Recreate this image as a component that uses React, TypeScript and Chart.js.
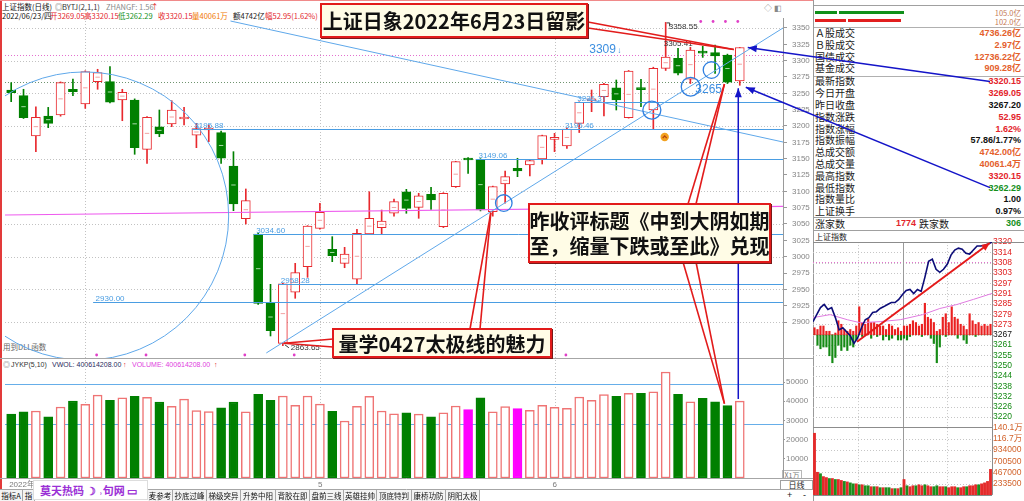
import React, { useEffect, useRef } from 'react';
import { Chart, registerables } from 'chart.js';

Chart.register(...registerables);

const LATIN = '"Liberation Sans", Arial, "Noto Sans CJK SC", sans-serif';
const CJK = '"Noto Sans CJK SC", "Liberation Sans", sans-serif';

const UP = '#e8282d';
const UP_VOL = '#ef7474';
const DOWN = '#008000';
const MARK = '#ff00ff';
const LEVEL = '#4a9de2';
const NAVY = '#1414c8';
const CALLOUT = '#e21b1b';
const ORANGE = '#e4602c';
const RED_TXT = '#e3242b';
const GREEN_TXT = '#14901c';

// ---- 上证指数 daily bars ----
const dates = [
  '2022-03-24', '2022-03-25', '2022-03-28', '2022-03-29', '2022-03-30', '2022-03-31',
  '2022-04-01', '2022-04-06', '2022-04-07', '2022-04-08', '2022-04-11', '2022-04-12', '2022-04-13', '2022-04-14', '2022-04-15',
  '2022-04-18', '2022-04-19', '2022-04-20', '2022-04-21', '2022-04-22', '2022-04-25', '2022-04-26', '2022-04-27', '2022-04-28', '2022-04-29',
  '2022-05-05', '2022-05-06', '2022-05-09', '2022-05-10', '2022-05-11', '2022-05-12', '2022-05-13', '2022-05-16', '2022-05-17', '2022-05-18',
  '2022-05-19', '2022-05-20', '2022-05-23', '2022-05-24', '2022-05-25', '2022-05-26', '2022-05-27', '2022-05-30', '2022-05-31',
  '2022-06-01', '2022-06-02', '2022-06-06', '2022-06-07', '2022-06-08', '2022-06-09', '2022-06-10', '2022-06-13', '2022-06-14', '2022-06-15',
  '2022-06-16', '2022-06-17', '2022-06-20', '2022-06-21', '2022-06-22', '2022-06-23',
];
const opens = [
  3255.1, 3246.4, 3184.7, 3215.3, 3216.8, 3256.2, 3233.7, 3267.8, 3267.8, 3239.8,
  3239.8, 3164.2, 3198.9, 3203.0, 3210.7, 3185.8, 3193.9, 3189.8, 3138.8, 3058.1,
  3034.6, 2928.6, 2867.4, 2945.5, 2984.6, 3043.4, 3011.3, 2989.8, 2965.4, 3034.7,
  3044.3, 3066.4, 3099.4, 3075.5, 3095.5, 3045.9, 3107.1, 3150.6, 3149.06, 3068.9,
  3111.2, 3135.3, 3140.3, 3149.5, 3179.6, 3169.4, 3204.1, 3238.4, 3245.0, 3258.6,
  3212.7, 3257.2, 3224.5, 3288.3, 3303.6, 3271.5, 3313.0, 3312.3, 3308.7, 3269.05,
];
const highs = [
  3266.3, 3256.2, 3229.5, 3228.5, 3267.5, 3272.0, 3284.5, 3286.8, 3290.8, 3256.2,
  3241.5, 3214.5, 3224.5, 3238.7, 3228.5, 3204.0, 3201.5, 3192.3, 3160.7, 3103.6,
  3036.0, 2957.7, 2959.0, 2989.8, 3047.5, 3081.7, 3030.6, 3014.3, 3041.9, 3099.4,
  3071.4, 3088.0, 3103.1, 3097.0, 3106.2, 3098.0, 3146.0, 3151.5, 3150.0, 3108.0,
  3131.1, 3150.6, 3148.0, 3186.0, 3188.8, 3197.0, 3237.0, 3255.1, 3265.3, 3270.4,
  3285.0, 3271.5, 3290.0, 3358.55, 3319.0, 3320.5, 3322.0, 3324.0, 3310.0, 3320.15,
];
const lows = [
  3237.2, 3211.5, 3160.7, 3197.4, 3215.0, 3246.4, 3227.0, 3256.2, 3235.5, 3208.1,
  3156.7, 3142.9, 3183.6, 3199.0, 3201.5, 3166.8, 3176.0, 3142.9, 3070.4, 3050.0,
  2927.0, 2878.6, 2863.65, 2936.3, 2968.4, 3042.0, 2992.3, 2983.1, 2958.2, 3034.0,
  3034.7, 3062.0, 3066.4, 3058.7, 3072.5, 3044.5, 3106.0, 3127.6, 3070.0, 3062.0,
  3081.7, 3122.4, 3123.5, 3141.8, 3160.7, 3165.8, 3190.0, 3221.9, 3215.3, 3224.5,
  3212.0, 3229.5, 3194.9, 3285.0, 3278.0, 3265.0, 3305.0, 3280.6, 3265.0, 3262.29,
];
const closes = [
  3251.0, 3212.7, 3213.3, 3204.1, 3266.3, 3252.6, 3283.1, 3281.6, 3236.3, 3251.6,
  3166.8, 3213.3, 3187.7, 3224.5, 3212.3, 3195.88, 3196.4, 3150.6, 3080.6, 3085.7,
  2928.6, 2886.7, 2958.28, 2975.5, 3046.9, 3067.9, 3001.6, 3004.1, 3035.8, 3058.7,
  3054.6, 3084.2, 3073.8, 3093.3, 3086.7, 3097.0, 3145.4, 3148.0, 3071.5, 3107.1,
  3122.4, 3131.1, 3146.9, 3185.2, 3182.1, 3195.46, 3236.3, 3240.6, 3263.8, 3239.8,
  3284.2, 3255.6, 3288.3, 3305.41, 3281.0, 3316.3, 3311.6, 3307.1, 3267.2, 3320.15,
];
// 成交量, 万
const volumes = [
  33300, 34400, 34900, 31800, 37000, 40100, 38400, 43200, 40500, 41700,
  42500, 42000, 39600, 37300, 41100, 35100, 34600, 36600, 39600, 34400,
  43600, 40500, 42700, 37900, 42700, 38500, 34700, 29700, 37300, 42500,
  34900, 33400, 34000, 33300, 31800, 34000, 37500, 35600, 41800, 34400,
  37200, 36100, 35200, 37800, 36800, 36300, 42200, 40500, 43400, 42500,
  44100, 44100, 44900, 55200, 43600, 39700, 41500, 39700, 37700, 40061,
];
const markedVolume = [37, 41];
const EMPTY_SLOTS = 3;

const priceTicks = [2900, 2925, 2950, 2975, 3000, 3025, 3050, 3075, 3100, 3125, 3150, 3175, 3200, 3225, 3250, 3275, 3300, 3325, 3350];
const priceGridLines = [2900, 2950, 3000, 3050, 3100, 3150, 3200, 3250, 3300, 3350];
const volumeTicks = [10000, 20000, 30000, 40000, 50000];
const volumeLevels = [48900, 28100];
const axisMarks = [
  { index: 0, text: '2022年' },
  { index: 6, text: '4' },
  { index: 25, text: '5' },
  { index: 44, text: '6' },
];

const PREV_CLOSE = 3267.2;
const WATCH_LEVEL = 3309;

const levelLines = [
  { from: 7, value: 2930.0 },
  { from: 15, value: 3195.88 },
  { from: 20, value: 3034.6 },
  { from: 22, value: 2958.28 },
  { from: 38, value: 3149.06 },
  { from: 45, value: 3195.46 },
  { from: 46, value: 3236.37 },
];
const trendLines = [
  { a: [17.76, 3360.7], b: [62.5, 3175.5] },
  { a: [20.66, 2852.6], b: [62.5, 3350.0] },
];
const pinkGuide = { a: [-0.5, 3063.8], b: [62.5, 3077.0] };
const bigRing = { index: 5.94, value: 3062.2, span: 11.67 };
const smallRings = [
  { index: 39.89, value: 3082.1, span: 0.67 },
  { index: 51.88, value: 3224.4, span: 0.73 },
  { index: 55.02, value: 3260.2, span: 0.76 },
  { index: 56.71, value: 3285.7, span: 0.67 },
];
const signalTop = [56, 57, 58, 59];
const signalBottom = [7, 11, 19, 23, 45];

// ---- 分时 (intraday, minutes after 9:30) ----
const intradayMinutes = [
  0, 5, 10, 15, 20, 25, 30, 35, 40, 45, 50, 55, 60, 65, 70, 75, 80, 85, 90, 95, 100, 105, 110, 115, 120,
  125, 130, 135, 140, 145, 150, 155, 160, 165, 170, 175, 180, 185, 190, 195, 200, 205, 210, 215, 220, 225, 230, 235, 240,
];
const intradayPrice = [
  3274.7, 3278.7, 3282.7, 3284.5, 3281.6, 3282.7, 3277.0, 3270.0, 3271.2, 3268.9,
  3266.6, 3262.3, 3265.5, 3271.2, 3275.8, 3277.0, 3279.9, 3280.4, 3282.2, 3283.3,
  3284.5, 3285.6, 3285.6, 3287.4, 3290.2, 3292.5, 3293.1, 3290.8, 3293.1, 3292.0,
  3300.0, 3309.2, 3310.4, 3304.6, 3302.9, 3304.6, 3307.5, 3312.7, 3315.6, 3316.7,
  3316.1, 3313.8, 3313.3, 3315.6, 3317.9, 3317.9, 3318.4, 3319.0, 3320.15,
];
const avgMinutes = [0, 23, 46, 63, 90, 117, 147, 170, 193, 215, 240];
const avgPrice = [3277.0, 3278.7, 3275.8, 3274.1, 3274.7, 3275.8, 3278.7, 3282.2, 3284.5, 3287.4, 3290.8];
const breadthMinutes = [
  2, 6, 10, 14, 18, 22, 26, 30, 34, 38, 42, 46, 50, 54, 58, 62, 66, 70, 74, 78,
  82, 86, 90, 94, 98, 102, 106, 110, 114, 118, 122, 126, 130, 134, 138, 142, 146, 150, 154, 158,
  162, 166, 170, 174, 178, 182, 186, 190, 194, 198, 202, 206, 210, 214, 218, 222, 226, 230, 234, 238,
];
const breadthUp = [
  4, 3, 5, 5, 2, 2, 0, 1, 8, 6, 3, 2, 3, 2, 5, 16, 7, 6, 9, 7,
  7, 6, 5, 5, 3, 6, 5, 3, 4, 2, 5, 5, 6, 8, 7, 5, 6, 18, 10, 9,
  7, 2, 3, 10, 12, 7, 16, 10, 9, 6, 5, 3, 12, 8, 6, 7, 5, 6, 5, 6,
];
const breadthDown = [
  0, 6, 8, 7, 7, 12, 16, 13, 6, 9, 7, 9, 6, 7, 3, 0, 1, 0, 0, 2,
  0, 1, 0, 3, 1, 3, 2, 0, 3, 3, 2, 3, 1, 0, 0, 0, 1, 0, 0, 2,
  5, 16, 7, 0, 1, 0, 0, 0, 2, 0, 3, 5, 0, 0, 1, 0, 0, 0, 0, 0,
];
// 分时成交量, 万
const minuteVolume = [
  128, 47, 44, 38, 36, 34, 34, 32, 32, 30, 28, 27, 25, 23, 23, 21, 21, 19, 19, 17,
  17, 17, 15, 15, 15, 15, 13, 13, 13, 15, 32, 19, 17, 19, 19, 21, 19, 21, 19, 17,
  17, 19, 17, 17, 17, 15, 17, 17, 15, 15, 17, 17, 19, 19, 21, 21, 23, 25, 28, 53,
];
const minuteVolumeSide = 'rrgrrgrgrrgrggrgrggrgrgrggrgrgrgrrgrrgrrggrrgrrrgrrgrrrgrrrr';
const minutePriceTicks = [
  3220.13, 3226.02, 3231.9, 3237.78, 3243.67, 3249.55, 3255.43, 3261.32, 3267.2,
  3273.08, 3278.97, 3284.85, 3290.73, 3296.62, 3302.5, 3308.38, 3314.27, 3320.15,
];
const MINUTE_PRICE_TOP = 3320.15;
const MINUTE_PRICE_FLOOR = 3214.25;
const minuteVolumeTicks = [23.35, 46.7, 70.05, 93.4, 116.75, 140.1];
const MINUTE_VOLUME_TOP = 140.1;
const minuteVolumeTickText = ['233500', '467000', '700500', '934000', '116.7万', '140.1万'];
const minuteSessions = [60, 120, 180];
const minuteTrend = { a: [59, 3263.2], b: [237, 3319.6] };
// share of the intraday plot height taken by the price band (the rest holds volume)
const PRICE_BAND_SHARE = 184 / 251;

// ---- side panel ----
const panelRows = [
  { label: 'Ａ股成交', value: '4736.26亿', color: ORANGE },
  { label: 'Ｂ股成交', value: '2.97亿', color: ORANGE },
  { label: '国债成交', value: '12736.22亿', color: ORANGE },
  { label: '基金成交', value: '909.28亿', color: ORANGE },
  { label: '最新指数', value: '3320.15', color: RED_TXT },
  { label: '今日开盘', value: '3269.05', color: RED_TXT },
  { label: '昨日收盘', value: '3267.20', color: '#111' },
  { label: '指数涨跌', value: '52.95', color: RED_TXT },
  { label: '指数涨幅', value: '1.62%', color: RED_TXT },
  { label: '指数振幅', value: '57.86/1.77%', color: '#111' },
  { label: '总成交额', value: '4742.00亿', color: ORANGE },
  { label: '总成交量', value: '40061.4万', color: ORANGE },
  { label: '最高指数', value: '3320.15', color: RED_TXT },
  { label: '最低指数', value: '3262.29', color: GREEN_TXT },
  { label: '指数量比', value: '1.00', color: '#111' },
  { label: '上证换手', value: '0.97%', color: '#111' },
];
const ROW_LATEST = 4;
const ROW_LOWEST = 13;
const panelRowY = (k: number) => 33 + 11.8 * k + (k >= 4 ? 1.2 : 0);

const tabs = [
  { text: '指标A', x: 0, w: 23 }, { text: '指', x: 23, w: 12 }, { text: '麦参考', x: 148, w: 25 },
  { text: '抄底过峰', x: 173, w: 34 }, { text: '梯级突异', x: 207, w: 34 }, { text: '升势中阳', x: 241, w: 35 },
  { text: '背胶在即', x: 276, w: 34 }, { text: '盘前三线', x: 310, w: 34 }, { text: '英雄挂帅', x: 344, w: 33 },
  { text: '顶底特判', x: 377, w: 35 }, { text: '康桥功防', x: 412, w: 34 }, { text: '阴阳太极', x: 446, w: 34 },
];

const headerRow1 = [
  { x: 2, text: '上证指数(日线)', color: '#111' },
  { x: 55, text: '◎', color: '#666' },
  { x: 62, text: 'BYTJ(2,1,1)', color: '#333' },
  { x: 106, text: 'ZHANGF: 1.56', color: '#8a8a8a' },
  { x: 151, text: '↑', color: '#e02020' },
];
const headerRow2 = [
  { x: 2, text: '2022/06/23/四', color: '#111' },
  { x: 50, text: '开3269.05', color: RED_TXT },
  { x: 84, text: '高3320.15', color: RED_TXT },
  { x: 118, text: '低3262.29', color: GREEN_TXT },
  { x: 158, text: '收3320.15', color: RED_TXT },
  { x: 192, text: '量40061万', color: '#f07800' },
  { x: 233, text: '额4742亿', color: '#222' },
  { x: 265, text: '幅52.95(1.62%)', color: RED_TXT },
];
const volumeHeader = [
  { x: 3, text: '◎', color: '#666' },
  { x: 11, text: 'JYKP(5,10)', color: '#333' },
  { x: 52, text: 'VWOL: 400614208.00', color: '#2a2a60' },
  { x: 123, text: '↑', color: '#e02020' },
  { x: 132, text: 'VOLUME: 400614208.00', color: '#e040e0' },
  { x: 214, text: '↑', color: '#e02020' },
];

// callout boxes (page pixels)
const titleBox = { x: 320, y: 3, w: 268, h: 35 };
const reviewBox = { x: 528, y: 203, w: 243, h: 60 };
const taijiBox = { x: 332, y: 328, w: 220, h: 30 };

function seg(ctx: CanvasRenderingContext2D, x1: number, y1: number, x2: number, y2: number) {
  ctx.beginPath();
  ctx.moveTo(x1, y1);
  ctx.lineTo(x2, y2);
  ctx.stroke();
}

function arrowHead(ctx: CanvasRenderingContext2D, x1: number, y1: number, x2: number, y2: number, len: number, half: number) {
  const a = Math.atan2(y2 - y1, x2 - x1);
  const bx = x2 - len * Math.cos(a);
  const by = y2 - len * Math.sin(a);
  ctx.beginPath();
  ctx.moveTo(x2, y2);
  ctx.lineTo(bx + half * Math.sin(a), by - half * Math.cos(a));
  ctx.lineTo(bx - half * Math.sin(a), by + half * Math.cos(a));
  ctx.closePath();
  ctx.fill();
}

const dailyDecor = {
  id: 'dailyDecor',
  beforeDatasetsDraw(chart: any) {
    const { ctx, chartArea } = chart;
    const xs = chart.scales.x;
    const yP = chart.scales.yP;
    const yV = chart.scales.yV;
    const L = chartArea.left;
    const R = chartArea.right;
    ctx.save();
    ctx.lineWidth = 1;
    ctx.setLineDash([1, 2]);
    ctx.strokeStyle = '#c2c2c2';
    priceGridLines.forEach((v) => {
      const y = Math.round(yP.getPixelForValue(v)) + 0.5;
      seg(ctx, L, y, R, y);
    });
    axisMarks.forEach((m) => {
      if (m.index === 0) return;
      const x = Math.round(xs.getPixelForValue(m.index)) + 0.5;
      seg(ctx, x, yP.top, x, yV.bottom);
    });
    ctx.strokeStyle = '#6f946f';
    let y = Math.round(yP.getPixelForValue(PREV_CLOSE)) + 0.5;
    seg(ctx, L, y, R, y);
    ctx.strokeStyle = '#e46fcf';
    y = Math.round(yP.getPixelForValue(WATCH_LEVEL)) + 0.5;
    seg(ctx, L, y, R, y);
    ctx.setLineDash([]);
    ctx.strokeStyle = '#66aee9';
    volumeLevels.forEach((v) => {
      const yy = Math.round(yV.getPixelForValue(v)) + 0.5;
      seg(ctx, L, yy, R, yy);
    });
    ctx.restore();
  },
  afterDatasetsDraw(chart: any) {
    const { ctx, chartArea } = chart;
    const xs = chart.scales.x;
    const yP = chart.scales.yP;
    const L = chartArea.left;
    const R = chartArea.right;
    const px = (i: number) => xs.getPixelForValue(i);
    const py = (v: number) => yP.getPixelForValue(v);
    const slot = px(1) - px(0);
    ctx.save();
    ctx.beginPath();
    ctx.rect(L, yP.top, R - L, yP.bottom - yP.top);
    ctx.clip();

    ctx.strokeStyle = '#ee5cee';
    ctx.lineWidth = 1.2;
    seg(ctx, px(pinkGuide.a[0]), py(pinkGuide.a[1]), px(pinkGuide.b[0]), py(pinkGuide.b[1]));

    ctx.lineWidth = 1;
    ctx.strokeStyle = LEVEL;
    ctx.fillStyle = LEVEL;
    ctx.font = `8px ${LATIN}`;
    ctx.textAlign = 'left';
    ctx.textBaseline = 'alphabetic';
    levelLines.forEach((l) => {
      const yy = Math.round(py(l.value)) + 0.5;
      seg(ctx, px(l.from) - 4.5, yy, R, yy);
      ctx.fillText(l.value.toFixed(2), px(l.from) - 2, yy - 2);
    });

    ctx.strokeStyle = '#5fa8ea';
    trendLines.forEach((t) => seg(ctx, px(t.a[0]), py(t.a[1]), px(t.b[0]), py(t.b[1])));
    ctx.beginPath();
    ctx.arc(px(bigRing.index), py(bigRing.value), bigRing.span * slot, 0, Math.PI * 2);
    ctx.stroke();
    ctx.strokeStyle = '#2f7fe0';
    ctx.lineWidth = 1.3;
    smallRings.forEach((r) => {
      ctx.beginPath();
      ctx.arc(px(r.index), py(r.value), r.span * slot, 0, Math.PI * 2);
      ctx.stroke();
    });

    // level tags
    ctx.fillStyle = '#3d8fe0';
    ctx.font = `12px ${LATIN}`;
    ctx.fillText(String(WATCH_LEVEL), px(46.81), py(WATCH_LEVEL) - 2);
    ctx.font = `8px ${LATIN}`;
    ctx.fillText('↓', px(46.81) + 28, py(WATCH_LEVEL) - 2);
    ctx.font = `12px ${LATIN}`;
    ctx.fillText('3265', px(55.4), py(3265) + 9);

    // price notes
    ctx.fillStyle = '#333';
    ctx.font = `8px ${LATIN}`;
    ctx.fillText(highs[53].toFixed(2), px(53) + 3, py(highs[53]) + 7);
    ctx.fillText(closes[53].toFixed(2), px(53) - 2, py(closes[53]) - 11);
    ctx.fillText(lows[22].toFixed(2), px(22) + 8, py(lows[22]) + 4);
    ctx.strokeStyle = '#333';
    ctx.lineWidth = 1;
    seg(ctx, px(53) + 1, py(highs[53]) + 0.5, px(53) + 4, py(highs[53]) + 0.5);
    seg(ctx, px(53) + 4, py(highs[53]) + 0.5, px(53) + 4, py(highs[53]) + 4);
    seg(ctx, px(22) + 2, py(lows[22]) - 1, px(22) + 6, py(lows[22]) + 2);

    // signal dots
    ctx.fillStyle = '#e040c8';
    signalBottom.forEach((i) => {
      ctx.beginPath();
      ctx.arc(px(i) - 1, yP.bottom - 3, 1.4, 0, Math.PI * 2);
      ctx.fill();
    });
    signalTop.forEach((i) => {
      ctx.beginPath();
      ctx.arc(px(i) - 2, yP.top + 3.5, 1.4, 0, Math.PI * 2);
      ctx.fill();
    });

    // badge under the 3358 candle
    const bx = px(53) - 1;
    const by = py(3183.1);
    ctx.fillStyle = '#f2a11f';
    ctx.beginPath();
    ctx.arc(bx, by, 4.2, 0, Math.PI * 2);
    ctx.fill();
    ctx.strokeStyle = '#b5400a';
    ctx.lineWidth = 1.2;
    ctx.beginPath();
    ctx.moveTo(bx - 2, by + 1.2);
    ctx.lineTo(bx, by - 1.2);
    ctx.lineTo(bx + 2, by + 1.2);
    ctx.stroke();
    ctx.restore();
  },
  afterDraw(chart: any) {
    const { ctx } = chart;
    const xs = chart.scales.x;
    const yP = chart.scales.yP;
    const yV = chart.scales.yV;
    const px = (i: number) => xs.getPixelForValue(i);
    const py = (v: number) => yP.getPixelForValue(v);
    const last = dates.length - 1;
    ctx.save();

    // pane separators
    ctx.strokeStyle = '#a6a6a6';
    ctx.lineWidth = 1;
    seg(ctx, 0, Math.round(yV.top) + 0.5, 813, Math.round(yV.top) + 0.5);
    seg(ctx, 0, Math.round(yV.bottom) + 0.5, 813, Math.round(yV.bottom) + 0.5);
    seg(ctx, 0, 489.5, 813, 489.5);

    // month labels
    ctx.fillStyle = '#7a7a7a';
    ctx.font = `8px ${LATIN}`;
    ctx.textBaseline = 'middle';
    ctx.textAlign = 'left';
    axisMarks.forEach((m) => ctx.fillText(m.text, px(m.index) - 2, 485));

    // callout pointers
    ctx.strokeStyle = CALLOUT;
    ctx.lineWidth = 1.6;
    const wedge = (ax: number, ay: number, s: number[][]) => s.forEach((p) => seg(ctx, p[0], p[1], ax, ay));
    const tRight = titleBox.x + titleBox.w;
    wedge(px(last) - 6, py(highs[last]) + 2, [[tRight, titleBox.y + 19], [tRight, titleBox.y + 25]]);
    wedge(px(58) - 3, py(closes[58]) + 2, [[reviewBox.x + 160, reviewBox.y + 1], [reviewBox.x + 168, reviewBox.y + 1]]);
    const rBottom = reviewBox.y + reviewBox.h;
    wedge(px(58) - 3, yV.getPixelForValue(volumes[58]) - 2, [[reviewBox.x + 155, rBottom - 1], [reviewBox.x + 168, rBottom - 1]]);
    wedge(px(39) - 2, py(opens[39]) + 1, [[taijiBox.x + 138, taijiBox.y + 1], [taijiBox.x + 148, taijiBox.y + 1]]);
    wedge(px(22) + 1, py(opens[22]), [[taijiBox.x + 1, taijiBox.y + 11], [taijiBox.x + 1, taijiBox.y + 19]]);

    // links from the quote panel
    ctx.strokeStyle = NAVY;
    ctx.fillStyle = NAVY;
    ctx.lineWidth = 1.5;
    const links = [
      { sx: 990, sy: panelRowY(ROW_LATEST), tx: px(last) + 8, ty: py(highs[last]) },
      { sx: 990, sy: panelRowY(ROW_LOWEST), tx: px(last) + 6, ty: py(lows[last]) + 2 },
      { sx: px(last) - 1.5, sy: yV.getPixelForValue(volumes[last]) - 2, tx: px(last) - 1.5, ty: py(lows[last]) + 3 },
    ];
    links.forEach((l) => {
      seg(ctx, l.sx, l.sy, l.tx, l.ty);
      arrowHead(ctx, l.sx, l.sy, l.tx, l.ty, 9, 3.5);
    });
    ctx.restore();
  },
};

const intradayDecor = {
  id: 'intradayDecor',
  beforeDatasetsDraw(chart: any) {
    const { ctx, chartArea } = chart;
    const xs = chart.scales.x;
    const yI = chart.scales.yI;
    const yIV = chart.scales.yIV;
    const L = chartArea.left;
    const R = chartArea.right;
    const T = chartArea.top;
    const B = chartArea.bottom;
    const split = Math.round(yI.getPixelForValue(MINUTE_PRICE_FLOOR)) + 0.5;
    ctx.save();
    ctx.lineWidth = 1;
    ctx.setLineDash([1, 2]);
    ctx.strokeStyle = '#c6c6c6';
    minutePriceTicks.forEach((v) => {
      const y = Math.round(yI.getPixelForValue(v)) + 0.5;
      seg(ctx, L, y, R, y);
    });
    minuteVolumeTicks.forEach((v) => {
      const y = Math.round(yIV.getPixelForValue(v)) + 0.5;
      seg(ctx, L, y, R, y);
    });
    minuteSessions.forEach((t) => {
      if (t === 120) return;
      const x = Math.round(xs.getPixelForValue(t)) + 0.5;
      seg(ctx, x, T, x, B);
    });
    ctx.strokeStyle = '#e46fcf';
    const yw = Math.round(yI.getPixelForValue(WATCH_LEVEL)) + 0.5;
    seg(ctx, L, yw, R, yw);
    ctx.setLineDash([]);
    ctx.strokeStyle = '#9a9a9a';
    const xm = Math.round(xs.getPixelForValue(120)) + 0.5;
    seg(ctx, xm, T, xm, B);
    ctx.strokeStyle = '#8c8c8c';
    seg(ctx, L, Math.round(T) + 0.5, R + 32, Math.round(T) + 0.5);
    seg(ctx, L, split, R, split);
    seg(ctx, L, Math.round(B) + 0.5, R, Math.round(B) + 0.5);
    seg(ctx, Math.round(R) + 0.5, T, Math.round(R) + 0.5, B);
    ctx.restore();
  },
  afterDatasetsDraw(chart: any) {
    const { ctx } = chart;
    const xs = chart.scales.x;
    const yI = chart.scales.yI;
    const x1 = xs.getPixelForValue(minuteTrend.a[0]);
    const y1 = yI.getPixelForValue(minuteTrend.a[1]);
    const x2 = xs.getPixelForValue(minuteTrend.b[0]);
    const y2 = yI.getPixelForValue(minuteTrend.b[1]);
    ctx.save();
    ctx.strokeStyle = '#e41a1a';
    ctx.fillStyle = '#e41a1a';
    ctx.lineWidth = 2;
    seg(ctx, x1, y1, x2, y2);
    arrowHead(ctx, x1, y1, x2, y2, 8, 3.5);
    ctx.restore();
  },
};

function buildDaily(canvas: HTMLCanvasElement) {
  const pad = (arr: any[]) => [...arr, ...new Array(EMPTY_SLOTS).fill(null)];
  const labels = [...dates, ...new Array(EMPTY_SLOTS).fill('')];
  const up = dates.map((_, i) => closes[i] >= opens[i]);
  const wickData = pad(dates.map((_, i) => [lows[i], highs[i]]));
  const bodyData = pad(dates.map((_, i) => [opens[i], closes[i]]));
  const midData = pad(dates.map((_, i) => (Math.abs(closes[i] - opens[i]) > 9 ? (opens[i] + closes[i]) / 2 : null)));
  const volFill = dates.map((_, i) => (markedVolume.includes(i) ? MARK : up[i] ? '#ffffff' : DOWN));
  const volEdge = dates.map((_, i) => (markedVolume.includes(i) ? MARK : up[i] ? UP_VOL : DOWN));

  return new Chart(canvas, {
    type: 'bar',
    data: {
      labels,
      datasets: [
        {
          type: 'bar', data: wickData as any, yAxisID: 'yP', grouped: false, barThickness: 1, order: 4,
          backgroundColor: up.map((u) => (u ? UP : DOWN)), borderWidth: 0,
        },
        {
          type: 'bar', data: volumes as any, yAxisID: 'yV', grouped: false, barThickness: 9, order: 3,
          backgroundColor: volFill, borderColor: volEdge, borderWidth: 1.5, borderSkipped: false,
        },
        {
          type: 'bar', data: bodyData as any, yAxisID: 'yP', grouped: false, barThickness: 9, order: 2, minBarLength: 2,
          backgroundColor: up.map((u) => (u ? '#ffffff' : DOWN)), borderColor: up.map((u) => (u ? UP : DOWN)),
          borderWidth: 1, borderSkipped: false,
        },
        {
          type: 'line', data: midData as any, yAxisID: 'yP', showLine: false, order: 1,
          pointStyle: 'line', pointRadius: 2.2, pointBorderWidth: 1,
          pointBorderColor: up.map((u) => (u ? '#f3a2a2' : '#a9d9a9')),
        },
      ],
    },
    options: {
      responsive: false,
      animation: false,
      devicePixelRatio: 1,
      events: [],
      layout: { padding: { left: 0, right: 211, top: 18, bottom: 23 } },
      plugins: { legend: { display: false }, tooltip: { enabled: false } },
      scales: {
        x: { type: 'category', display: false, offset: true, grid: { display: false } },
        yP: {
          type: 'linear', position: 'right', stack: 'daily', stackWeight: 340, min: 2844.9, max: 3365.3,
          afterFit: (s: any) => { s.width = 30; },
          afterBuildTicks: (s: any) => { s.ticks = priceTicks.map((v) => ({ value: v })); },
          ticks: { autoSkip: false, padding: 5, color: '#858585', font: { size: 8, family: LATIN }, callback: (v: any) => String(v) },
          grid: { drawOnChartArea: false, tickLength: 4, color: '#9a9a9a' },
          border: { color: '#9a9a9a' },
        },
        yV: {
          type: 'linear', position: 'right', stack: 'daily', stackWeight: 120, min: 0, max: 62500,
          afterFit: (s: any) => { s.width = 30; },
          afterBuildTicks: (s: any) => { s.ticks = volumeTicks.map((v) => ({ value: v })); },
          ticks: { autoSkip: false, padding: 1, color: '#858585', font: { size: 8, family: LATIN }, callback: (v: any) => String(v) },
          grid: { drawOnChartArea: false, tickLength: 2, color: '#9a9a9a' },
          border: { color: '#9a9a9a' },
        },
      },
    } as any,
    plugins: [dailyDecor],
  });
}

function buildIntraday(canvas: HTMLCanvasElement) {
  // price band fills the top share of the plot, volume the rest; both axes span the full plot
  const priceSpan = (MINUTE_PRICE_TOP - MINUTE_PRICE_FLOOR) / PRICE_BAND_SHARE;
  const volumeSpan = MINUTE_VOLUME_TOP / (1 - PRICE_BAND_SHARE);
  return new Chart(canvas, {
    type: 'line',
    data: {
      datasets: [
        {
          type: 'line', data: intradayMinutes.map((t, i) => ({ x: t, y: intradayPrice[i] })), yAxisID: 'yI',
          borderColor: '#0c0c78', borderWidth: 1.6, pointRadius: 0, order: 1,
        },
        {
          type: 'line', data: avgMinutes.map((t, i) => ({ x: t, y: avgPrice[i] })), yAxisID: 'yI',
          borderColor: '#e07be0', borderWidth: 1, pointRadius: 0, order: 2,
        },
        {
          type: 'bar', data: breadthMinutes.map((t, i) => ({ x: t, y: [PREV_CLOSE, PREV_CLOSE + breadthUp[i]] })) as any,
          yAxisID: 'yI', backgroundColor: '#ea2020', barThickness: 1.5, grouped: false, order: 3,
        },
        {
          type: 'bar', data: breadthMinutes.map((t, i) => ({ x: t, y: [PREV_CLOSE - breadthDown[i], PREV_CLOSE] })) as any,
          yAxisID: 'yI', backgroundColor: '#148a14', barThickness: 1.5, grouped: false, order: 4,
        },
        {
          type: 'bar', data: breadthMinutes.map((t, i) => ({ x: t, y: minuteVolume[i] })) as any, yAxisID: 'yIV',
          backgroundColor: minuteVolumeSide.split('').map((c) => (c === 'r' ? '#e42a2a' : '#1d8d1d')),
          barThickness: 2.2, grouped: false, order: 5,
        },
      ],
    },
    options: {
      responsive: false,
      animation: false,
      devicePixelRatio: 1,
      events: [],
      layout: { padding: { left: 0, right: 0, top: 6, bottom: 6 } },
      plugins: { legend: { display: false }, tooltip: { enabled: false } },
      scales: {
        x: { type: 'linear', min: 0, max: 240, display: false, offset: false },
        yI: {
          type: 'linear', position: 'right', min: MINUTE_PRICE_TOP - priceSpan, max: MINUTE_PRICE_TOP,
          afterFit: (s: any) => { s.width = 32; },
          afterBuildTicks: (s: any) => { s.ticks = minutePriceTicks.map((v) => ({ value: v })); },
          ticks: {
            autoSkip: false, padding: 1, font: { size: 8.5, family: LATIN },
            color: (c: any) => (c.tick.value > PREV_CLOSE + 0.01 ? '#e02020' : c.tick.value < PREV_CLOSE - 0.01 ? '#148a14' : '#111'),
            callback: (v: any) => String(Math.round(v)),
          },
          grid: { drawOnChartArea: false, drawTicks: false },
          border: { display: false },
        },
        yIV: {
          type: 'linear', position: 'right', min: 0, max: volumeSpan, display: false,
          afterBuildTicks: (s: any) => { s.ticks = minuteVolumeTicks.map((v) => ({ value: v })); },
        },
      },
    } as any,
    plugins: [
      intradayDecor,
      {
        id: 'minuteVolumeLabels',
        afterDraw(chart: any) {
          const { ctx } = chart;
          const yIV = chart.scales.yIV;
          ctx.save();
          ctx.fillStyle = '#d2622a';
          ctx.font = `8.5px ${LATIN}`;
          ctx.textAlign = 'left';
          ctx.textBaseline = 'middle';
          minuteVolumeTicks.forEach((v, i) => ctx.fillText(minuteVolumeTickText[i], chart.chartArea.right + 1, yIV.getPixelForValue(v)));
          ctx.restore();
        },
      },
    ],
  });
}

const abs = (x: number, y: number, extra: any = {}) => ({ position: 'absolute' as const, left: x, top: y, whiteSpace: 'nowrap' as const, ...extra });

function Callout({ box, lines }: { box: { x: number; y: number; w: number; h: number }; lines: string[] }) {
  return (
    <div
      style={{
        position: 'absolute', left: box.x, top: box.y, width: box.w, height: box.h, boxSizing: 'border-box',
        border: `2px solid ${CALLOUT}`, background: '#fffce6', display: 'flex', flexDirection: 'column',
        justifyContent: 'center', alignItems: 'center', fontFamily: CJK, fontWeight: 700, fontSize: 20,
        lineHeight: '25px', color: '#111', boxShadow: '1px 1px 0 #7a1a1a',
      }}
    >
      {lines.map((l) => (
        <div key={l} style={{ whiteSpace: 'nowrap' }}>{l}</div>
      ))}
    </div>
  );
}

export default function App() {
  const dailyRef = useRef<HTMLCanvasElement>(null);
  const minuteRef = useRef<HTMLCanvasElement>(null);

  useEffect(() => {
    const daily = buildDaily(dailyRef.current!);
    const minute = buildIntraday(minuteRef.current!);
    return () => {
      daily.destroy();
      minute.destroy();
    };
  }, []);

  const small = { fontFamily: CJK, fontSize: 7.5, lineHeight: '9px' };

  return (
    <div style={{ position: 'absolute', left: 0, top: 0, width: 1024, height: 501, overflow: 'hidden', background: '#fff' }}>
      {/* frame */}
      <div style={abs(0, 0, { width: 1.5, height: 501, background: '#e23a3a' })} />
      <div style={abs(0, 0, { width: 813, height: 1, background: '#f08a8a' })} />
      <div style={abs(813, 0, { width: 1, height: 501, background: '#9a9a9a' })} />

      {/* header rows */}
      {headerRow1.map((s) => (
        <div key={s.text} style={abs(s.x, 2, { ...small, color: s.color })}>{s.text}</div>
      ))}
      {headerRow2.map((s) => (
        <div key={s.text} style={abs(s.x, 11, { ...small, color: s.color })}>{s.text}</div>
      ))}
      <div style={abs(764, 2, { fontSize: 8, color: '#888', fontFamily: LATIN })}>◇ ◧</div>
      <div style={abs(3, 342, { ...small, color: '#666' })}>用到DLL函数</div>
      {volumeHeader.map((s) => (
        <div key={s.text} style={abs(s.x, 360, { fontFamily: LATIN, fontSize: 7, lineHeight: '9px', color: s.color })}>{s.text}</div>
      ))}

      {/* quote panel */}
      <div style={abs(814, 5, { width: 210, height: 1, background: '#a0a0a0' })} />
      <div style={abs(815, 11, { width: 22, height: 3, background: '#10901a' })} />
      <div style={abs(839, 11, { width: 65, height: 3, background: '#10901a' })} />
      <div style={abs(815, 19, { width: 31, height: 3, background: '#e21e1e' })} />
      <div style={abs(848, 19, { width: 53, height: 3, background: '#e21e1e' })} />
      <div style={abs(0, 8, { width: 1021, textAlign: 'right', fontFamily: CJK, fontSize: 7.5, lineHeight: '9px', color: '#c47a56' })}>105.0亿</div>
      <div style={abs(0, 17, { width: 1021, textAlign: 'right', fontFamily: CJK, fontSize: 7.5, lineHeight: '9px', color: '#c47a56' })}>102.0亿</div>
      <div style={abs(814, 27, { width: 210, height: 1, background: '#b0b0b0' })} />
      <div style={abs(814, 76, { width: 210, height: 1, background: '#b0b0b0' })} />
      {panelRows.map((r, k) => (
        <React.Fragment key={r.label}>
          <div style={abs(815, panelRowY(k) - 7, { fontFamily: CJK, fontSize: 10, lineHeight: '13px', color: '#1a1a1a' })}>{r.label}</div>
          <div style={abs(0, panelRowY(k) - 6, { width: 1021, textAlign: 'right', fontFamily: LATIN, fontWeight: 700, fontSize: 9, lineHeight: '12px', color: r.color })}>{r.value}</div>
        </React.Fragment>
      ))}
      <div style={abs(814, 217, { width: 210, height: 1, background: '#a0a0a0' })} />
      <div style={abs(815, 217, { fontFamily: CJK, fontSize: 10, lineHeight: '13px', color: '#1a1a1a' })}>涨家数</div>
      <div style={abs(896, 217, { fontFamily: LATIN, fontWeight: 700, fontSize: 9, lineHeight: '13px', color: RED_TXT })}>1774</div>
      <div style={abs(919, 217, { fontFamily: CJK, fontSize: 10, lineHeight: '13px', color: '#1a1a1a' })}>跌家数</div>
      <div style={abs(0, 217, { width: 1021, textAlign: 'right', fontFamily: LATIN, fontWeight: 700, fontSize: 9, lineHeight: '13px', color: GREEN_TXT })}>306</div>
      <div style={abs(814, 230, { width: 210, height: 1, background: '#a0a0a0' })} />
      <div style={abs(815, 232, { fontFamily: CJK, fontSize: 8, lineHeight: '10px', color: '#222' })}>上证指数</div>

      {/* volume unit and period cells */}
      <div style={abs(782, 470, { width: 20, height: 9, boxSizing: 'border-box', border: '1px solid #b8b8b8', fontFamily: CJK, fontSize: 7, lineHeight: '8px', color: '#777', textAlign: 'center' })}>X1万</div>
      <div style={abs(780, 480, { width: 33, height: 10, boxSizing: 'border-box', border: '1px solid #a0a0a0', fontFamily: CJK, fontSize: 8, lineHeight: '8px', color: '#222', textAlign: 'center' })}>日线</div>
      <div style={abs(787, 490, { fontFamily: LATIN, fontSize: 9, lineHeight: '10px', color: '#222' })}>+</div>
      <div style={abs(803, 490, { fontFamily: LATIN, fontSize: 9, lineHeight: '10px', color: '#222' })}>-</div>

      <canvas ref={dailyRef} width={1024} height={501} style={{ position: 'absolute', left: 0, top: 0 }} />
      <canvas ref={minuteRef} width={211} height={265} style={{ position: 'absolute', left: 813, top: 236 }} />

      {/* bottom tab strip */}
      {tabs.map((t) => (
        <div
          key={t.text}
          style={abs(t.x, 490, {
            width: t.w, height: 11, boxSizing: 'border-box', borderRight: '1px solid #a8a8a8', background: '#f4f4f4',
            fontFamily: CJK, fontSize: 7.5, lineHeight: '11px', textAlign: 'center', color: '#111', overflow: 'hidden',
          })}
        >
          {t.text}
        </div>
      ))}
      <div
        style={abs(33, 480, {
          width: 115, height: 20, background: '#fff', boxSizing: 'border-box', border: '1px solid #ddd',
          fontFamily: CJK, fontSize: 11, lineHeight: '18px', color: '#9b2fd6', fontWeight: 700, paddingLeft: 6,
        })}
      >
        莫天热码 ☽ ˒句网 ▭
      </div>

      {/* callouts */}
      <Callout box={titleBox} lines={['上证日象2022年6月23日留影']} />
      <Callout box={reviewBox} lines={['昨收评标题《中到大阴如期', '至，缩量下跌或至此》兑现']} />
      <Callout box={taijiBox} lines={['量学0427太极线的魅力']} />
    </div>
  );
}
